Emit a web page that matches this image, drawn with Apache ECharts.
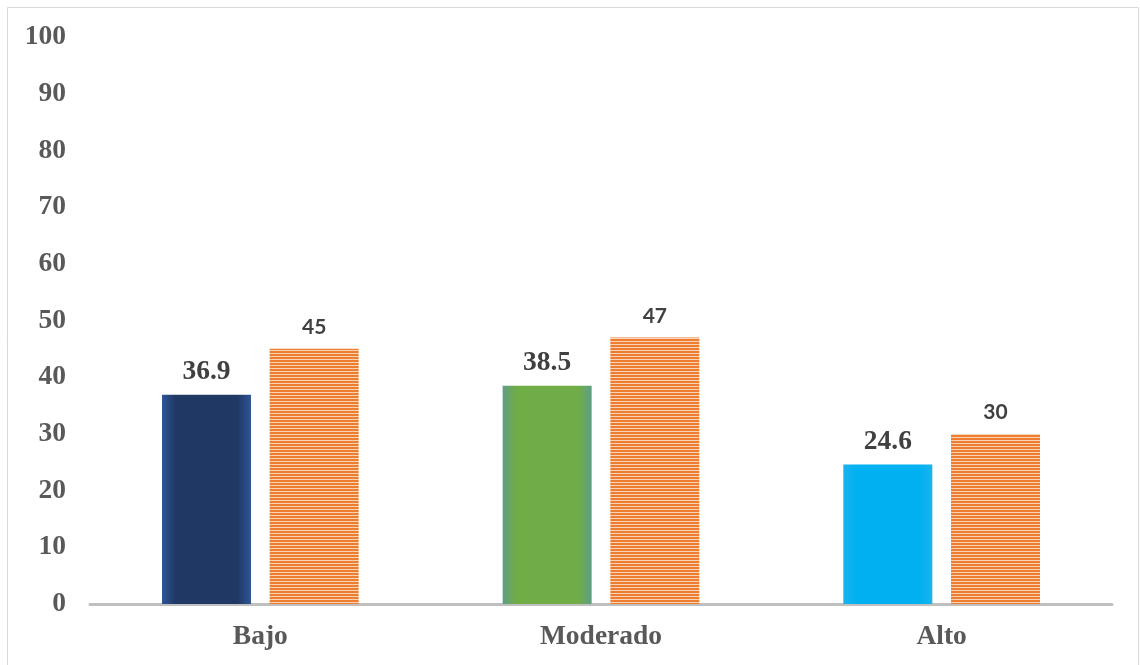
<!DOCTYPE html>
<html><head><meta charset="utf-8">
<script src="https://cdn.jsdelivr.net/npm/echarts@6/dist/echarts.min.js"></script>
<style>html,body{margin:0;padding:0;background:#fff}#c{width:1140px;height:665px}</style>
</head><body><div id="c"></div>
<script>
const categories = ['Bajo', 'Moderado', 'Alto'];
const seriesA = [36.9, 38.5, 24.6];
const seriesB = [45, 47, 30];
const yTicks = [0, 10, 20, 30, 40, 50, 60, 70, 80, 90, 100];

function grad(edge, mid) {
  return new echarts.graphic.LinearGradient(0, 0, 1, 0, [
    {offset: 0, color: edge}, {offset: 0.15, color: mid},
    {offset: 0.85, color: mid}, {offset: 1, color: edge}]);
}
const colorsA = [grad('#2F5597', '#203864'), grad('#5E9E86', '#70AD47'), grad('#1AB4EE', '#00B0F0')];

const pc = document.createElement('canvas');
pc.width = 4; pc.height = 3;
const pctx = pc.getContext('2d');
pctx.fillStyle = '#ED7D31'; pctx.fillRect(0, 0, 4, 2);
pctx.fillStyle = '#FAD3B6'; pctx.fillRect(0, 2, 4, 1);

const chart = echarts.init(document.getElementById('c'));
chart.setOption({
  animation: false,
  backgroundColor: '#fff',
  graphic: [{type: 'rect', shape: {x: 7.5, y: 7.5, width: 1131, height: 670},
    style: {fill: 'none', stroke: '#D9D9D9', lineWidth: 1}, silent: true}],
  grid: {left: 90, right: 28, top: 37, bottom: 61},
  xAxis: {
    type: 'category', data: categories,
    axisLine: {lineStyle: {color: '#BFBFBF', width: 3}},
    axisTick: {show: false},
    axisLabel: {margin: 19, fontFamily: 'Liberation Serif', fontWeight: 'bold', fontSize: 27.5, color: '#595959'}
  },
  yAxis: {
    type: 'value', min: yTicks[0], max: yTicks[yTicks.length - 1], interval: 10,
    splitLine: {show: false}, axisLine: {show: false}, axisTick: {show: false},
    axisLabel: {margin: 24, fontFamily: 'Liberation Serif', fontWeight: 'bold', fontSize: 27.5, color: '#595959'}
  },
  series: [{
    type: 'bar', barWidth: 89, barGap: '21%',
    data: seriesA.map((v, i) => ({value: v, itemStyle: {color: colorsA[i]}})),
    label: {show: true, position: 'top', distance: 9, fontFamily: 'Liberation Serif',
      fontWeight: 'bold', fontSize: 27.5, color: '#404040', formatter: p => p.value.toFixed(1)}
  }, {
    type: 'bar', barWidth: 89,
    data: seriesB,
    itemStyle: {color: {image: pc, repeat: 'repeat'}},
    label: {show: true, position: 'top', distance: 11, fontFamily: 'Lato',
      fontWeight: 'bold', fontSize: 21, color: '#404040'}
  }]
});
</script></body></html>
